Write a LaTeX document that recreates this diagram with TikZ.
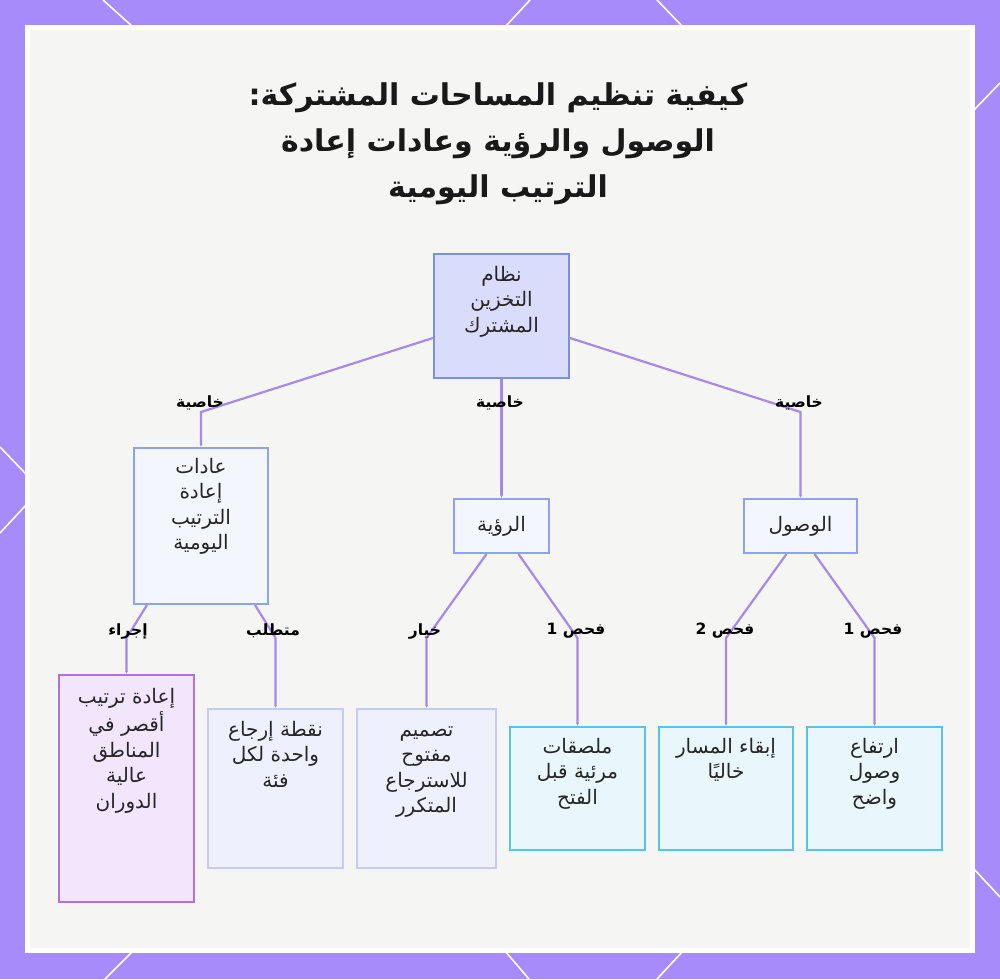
\documentclass[tikz,border=0pt]{standalone}
\usepackage{fontspec}
\usetikzlibrary{arrows.meta,calc}
\TeXXeTstate=1
\newfontfamily\arabicfont[Script=Arabic]{DejaVu Sans}
\newcommand{\ar}[1]{{\arabicfont\beginR #1\endR}}
\newcommand{\arl}[1]{\ar{\strut #1}}

\definecolor{framebg}{HTML}{A78BFA}
\definecolor{panelbg}{HTML}{F5F5F4}
\definecolor{linkcol}{HTML}{A68AEA}
\definecolor{inkcol}{HTML}{262626}
\definecolor{rootfill}{HTML}{D9DCFB}
\definecolor{rootdraw}{HTML}{7D8EDD}
\definecolor{midfill}{HTML}{F4F6FE}
\definecolor{middraw}{HTML}{8EA3E9}
\definecolor{actfill}{HTML}{F2E6FC}
\definecolor{actdraw}{HTML}{B16FE0}
\definecolor{reqfill}{HTML}{EEF1FD}
\definecolor{reqdraw}{HTML}{C4CBF5}
\definecolor{chkfill}{HTML}{E9F6FC}
\definecolor{chkdraw}{HTML}{56C4E3}

\begin{document}
\begin{tikzpicture}[x=1pt,y=-1pt]

\tikzset{
  rootbox/.style={
    draw=rootdraw,
    fill=rootfill,
    line width=2pt,
    minimum width=135pt,
    minimum height=124pt,
    anchor=north west
  },
  midbox/.style={
    draw=middraw,
    fill=midfill,
    line width=2pt,
    anchor=north west,
    font=\fontsize{20}{25.5}\selectfont,
    text=inkcol
  },
  actbox/.style={
    draw=actdraw,
    fill=actfill,
    line width=2pt,
    minimum width=135pt,
    minimum height=227pt,
    anchor=north west
  },
  reqbox/.style={
    draw=reqdraw,
    fill=reqfill,
    line width=2pt,
    minimum height=159pt,
    anchor=north west
  },
  chkbox/.style={
    draw=chkdraw,
    fill=chkfill,
    line width=2pt,
    minimum width=135pt,
    minimum height=123pt,
    anchor=north west
  },
  boxtext/.style={
    anchor=north,
    align=center,
    inner sep=0pt,
    text=inkcol,
    font=\fontsize{20}{25.5}\selectfont
  },
  edgelabel/.style={
    inner sep=1pt,
    text=black,
    font=\bfseries\fontsize{15.5}{18}\selectfont
  },
  link/.style={
    linkcol,
    line width=2.2pt,
    -{Latex[length=3pt,width=3pt]}
  },
  decoline/.style={
    white,
    line width=1.6pt
  }
}

%%%%%%%%%%%%%%%%%%%%%%%%%%%%%%%%%%%%%%%%%%%%%%%%%%%%%%%%%%%%
%% Frame and panel
%%%%%%%%%%%%%%%%%%%%%%%%%%%%%%%%%%%%%%%%%%%%%%%%%%%%%%%%%%%%
\fill[framebg] (0,0) rectangle (1000,979);
\useasboundingbox (0,0) rectangle (1000,979);

% White strokes on the frame
\draw[decoline] (103,0)--(133,27);
\draw[decoline] (530,0)--(505,27);
\draw[decoline] (657,0)--(683,27);
\draw[decoline] (105,979)--(133,951);
\draw[decoline] (529,979)--(505,951);
\draw[decoline] (657,979)--(683,951);
\draw[decoline] (0,447)--(27,475);
\draw[decoline] (27,504)--(0,533);
\draw[decoline] (973,111)--(1000,83);
\draw[decoline] (973,868)--(1000,897);

% Panel
\fill[white] (25,25) rectangle (975,953);
\fill[panelbg] (30,30) rectangle (970,948);

% Title
\node[
  align=center,
  text=black!90,
  font=\bfseries\fontsize{30}{46}\selectfont
] (title) at (498,144)
  {\ar{كيفية تنظيم المساحات المشتركة:}\\
   \ar{الوصول والرؤية وعادات إعادة}\\
   \ar{الترتيب اليومية}};

%%%%%%%%%%%%%%%%%%%%%%%%%%%%%%%%%%%%%%%%%%%%%%%%%%%%%%%%%%%%
%% Root and properties
%%%%%%%%%%%%%%%%%%%%%%%%%%%%%%%%%%%%%%%%%%%%%%%%%%%%%%%%%%%%
\node[rootbox] (root) at (433,253) {};
\node[boxtext] (root-t) at ([yshift=-10pt]root.north)
  {\arl{نظام}\\\arl{التخزين}\\\arl{المشترك}};

\node[midbox, minimum width=134pt, minimum height=156pt] (habits) at (133,447) {};
\node[boxtext] (habits-t) at ([yshift=-8pt]habits.north)
  {\arl{عادات}\\\arl{إعادة}\\\arl{الترتيب}\\\arl{اليومية}};

\node[midbox, minimum width=95pt, minimum height=54pt] (vision) at (453,498)
  {\ar{الرؤية}};
\node[midbox, minimum width=113pt, minimum height=54pt] (access) at (743,498)
  {\ar{الوصول}};

% Property links
\draw[link] ([yshift=-22pt]root.west)
  -- (habits.north |- 0,412) -- (habits.north);
\draw[link] (root.south -| vision.north) -- (vision.north);
\draw[link] ([yshift=-22pt]root.east)
  -- (access.north |- 0,412) -- (access.north);

\node[edgelabel] (l-habits) at (200,403) {\ar{خاصية}};
\node[edgelabel] (l-vision) at (500,403) {\ar{خاصية}};
\node[edgelabel] (l-access) at (799,403) {\ar{خاصية}};

%%%%%%%%%%%%%%%%%%%%%%%%%%%%%%%%%%%%%%%%%%%%%%%%%%%%%%%%%%%%
%% Leaves
%%%%%%%%%%%%%%%%%%%%%%%%%%%%%%%%%%%%%%%%%%%%%%%%%%%%%%%%%%%%
\node[actbox] (reorder) at (58,674) {};
\node[boxtext] (reorder-t) at ([yshift=-11pt]reorder.north)
  {\arl{إعادة ترتيب}\\\arl{أقصر في}\\\arl{المناطق}\\\arl{عالية}\\\arl{الدوران}};

\node[reqbox, minimum width=135pt] (returnpt) at (207,708) {};
\node[boxtext] (returnpt-t) at ([yshift=-10pt]returnpt.north)
  {\arl{نقطة إرجاع}\\\arl{واحدة لكل}\\\arl{فئة}};

\node[reqbox, minimum width=139pt] (opendesign) at (356,708) {};
\node[boxtext] (opendesign-t) at ([yshift=-10pt]opendesign.north)
  {\arl{تصميم}\\\arl{مفتوح}\\\arl{للاسترجاع}\\\arl{المتكرر}};

\node[chkbox] (stickers) at (509,726) {};
\node[boxtext] (stickers-t) at ([yshift=-9pt]stickers.north)
  {\arl{ملصقات}\\\arl{مرئية قبل}\\\arl{الفتح}};

\node[chkbox, minimum width=134pt] (clearpath) at (658,726) {};
\node[boxtext] (clearpath-t) at ([yshift=-9pt]clearpath.north)
  {\arl{إبقاء المسار}\\\arl{خاليًا}};

\node[chkbox] (reach) at (806,726) {};
\node[boxtext] (reach-t) at ([yshift=-9pt]reach.north)
  {\arl{ارتفاع}\\\arl{وصول}\\\arl{واضح}};

% Leaf links
\draw[link] ([xshift=-54pt]habits.south)
  -- (reorder.north |- 0,638) -- (reorder.north);
\draw[link] ([xshift=54pt]habits.south)
  -- (returnpt.north |- 0,638) -- (returnpt.north);
\draw[link] ([xshift=-15pt]vision.south)
  -- (opendesign.north |- 0,638) -- (opendesign.north);
\draw[link] ([xshift=17pt]vision.south)
  -- (stickers.north |- 0,638) -- (stickers.north);
\draw[link] ([xshift=-14pt]access.south)
  -- (clearpath.north |- 0,638) -- (clearpath.north);
\draw[link] ([xshift=14pt]access.south)
  -- (reach.north |- 0,638) -- (reach.north);

\node[edgelabel] (l-reorder) at (128,631) {\ar{إجراء}};
\node[edgelabel] (l-returnpt) at (273,631) {\ar{متطلب}};
\node[edgelabel] (l-opendesign) at (425,631) {\ar{خيار}};
\node[edgelabel] (l-stickers) at (576,631) {\ar{فحص 1}};
\node[edgelabel] (l-clearpath) at (725,631) {\ar{فحص 2}};
\node[edgelabel] (l-reach) at (873,631) {\ar{فحص 1}};

\end{tikzpicture}
\end{document}
